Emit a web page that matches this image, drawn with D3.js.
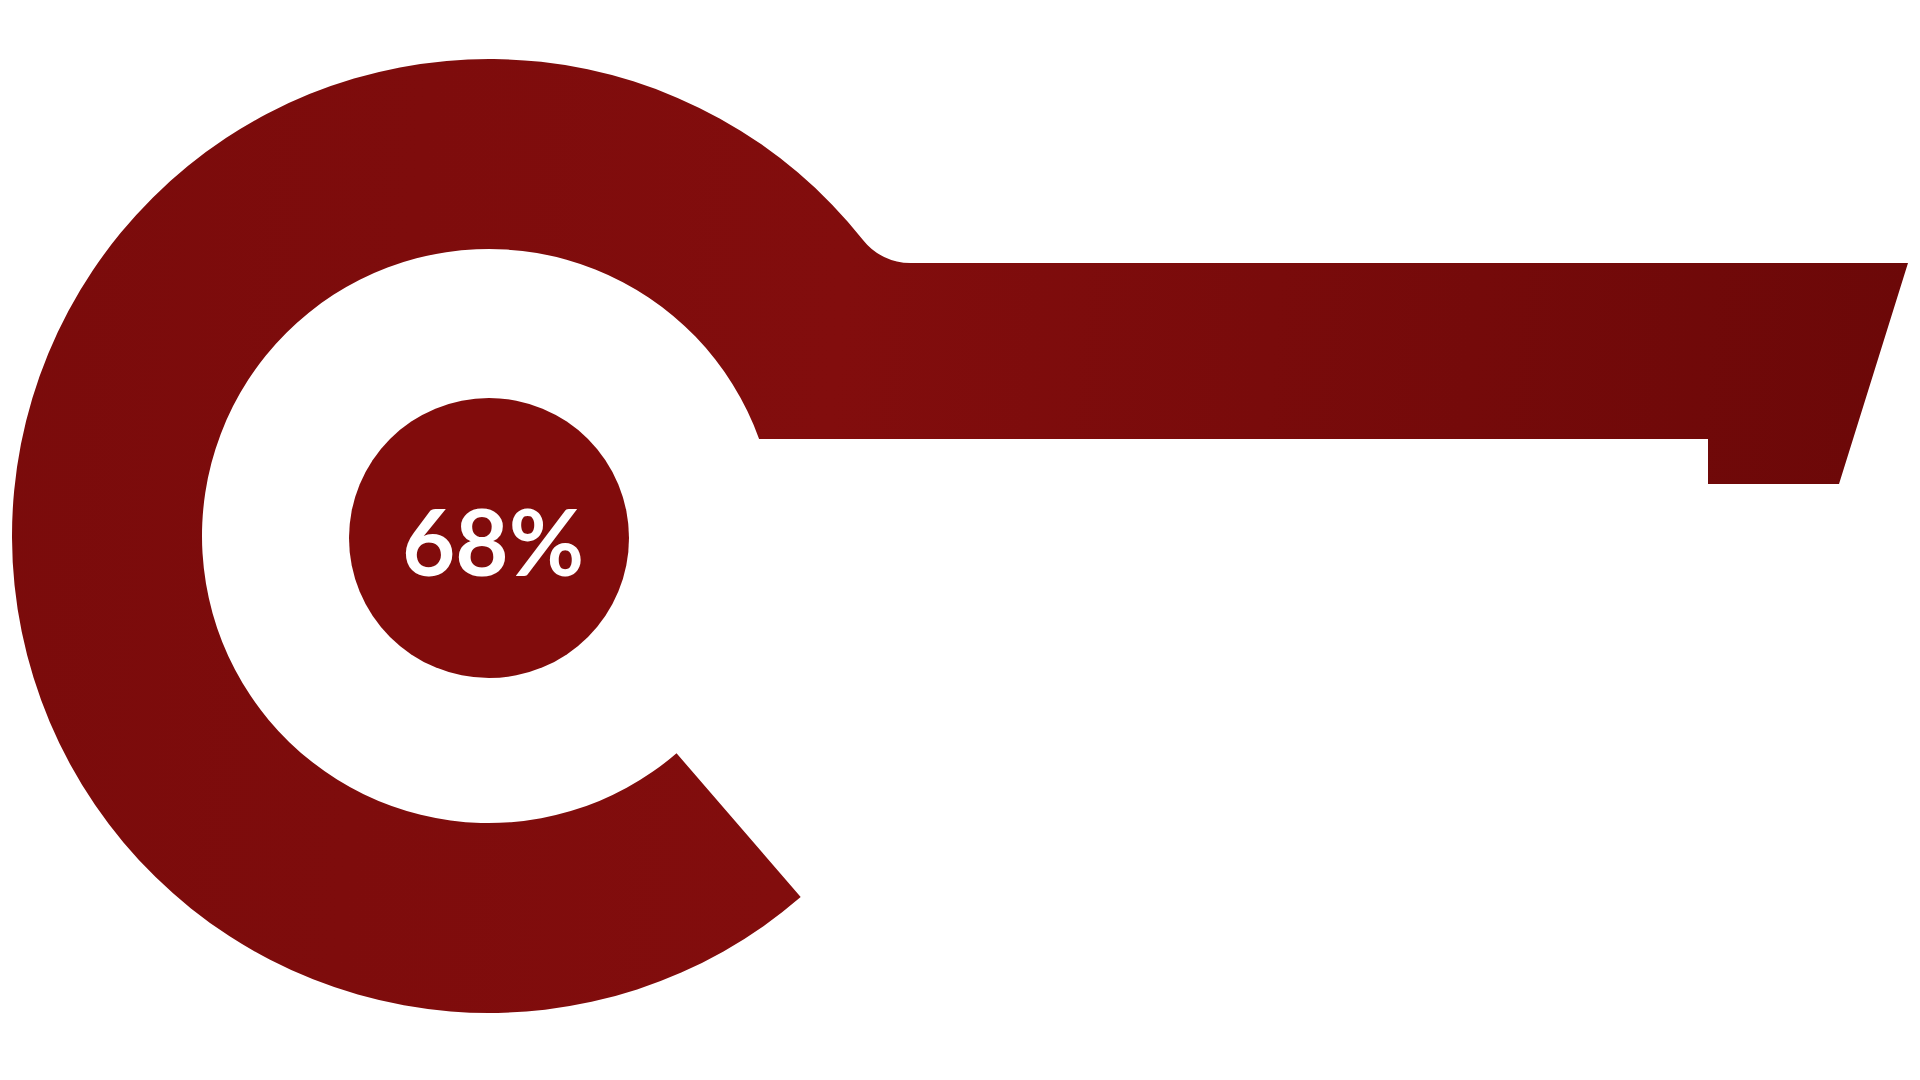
<!DOCTYPE html>
<html>
<head>
<meta charset="utf-8">
<script src="https://cdn.jsdelivr.net/npm/d3@7"></script>
<style>
  html, body { margin: 0; padding: 0; background: #ffffff; }
  svg { display: block; }
</style>
</head>
<body>
<svg id="chart" width="1920" height="1080"></svg>
<script>
// ---- data ----
const labels = ["68%"];
const values = [68];

// ---- layout ----
const W = 1920, H = 1080;
const cx = 489, cy = 536;
const rOuter = 477, rInner = 287, rDisc = 140;
const arcEndDeg = 139.2;          // radial end of ring (bottom right), d3 angle
const barTop = 263, barBottom = 439, tabBottom = 484;
const tabLeft = 1708, barRightTop = 1908, barRightBottom = 1839;
const filletR = 60;

const svg = d3.select("#chart");
const defs = svg.append("defs");
const grad = defs.append("linearGradient")
  .attr("id", "fillGrad").attr("gradientUnits", "userSpaceOnUse")
  .attr("x1", 0).attr("y1", 0).attr("x2", W).attr("y2", 200);
grad.append("stop").attr("offset", 0).attr("stop-color", "#7a0b0b");
grad.append("stop").attr("offset", 0.45).attr("stop-color", "#820d0d");
grad.append("stop").attr("offset", 1).attr("stop-color", "#6c0808");

const rad = d => d * Math.PI / 180;

// fillet geometry between outer circle and bar top line
const fy = barTop - filletR;
const fdist = rOuter + filletR;
const fx = cx + Math.sqrt(fdist * fdist - (cy - fy) * (cy - fy));
const tAng = Math.atan2(fy - cy, fx - cx);            // standard angle of tangent on circle
const fStart = Math.atan2((cy + rOuter * Math.sin(tAng)) - fy, (cx + rOuter * Math.cos(tAng)) - fx);

// inner circle meets bar bottom
const ix = cx + Math.sqrt(rInner * rInner - (barBottom - cy) * (barBottom - cy));
const innerAng = Math.atan2(barBottom - cy, ix - cx);

const endStd = rad(arcEndDeg - 90);  // standard angle of ring end

const p = d3.path();
p.moveTo(cx + rOuter * Math.cos(endStd), cy + rOuter * Math.sin(endStd));
p.arc(cx, cy, rOuter, endStd, tAng + 2 * Math.PI, false);
p.arc(fx, fy, filletR, fStart, Math.PI / 2, true);
p.lineTo(barRightTop, barTop);
p.lineTo(barRightBottom, tabBottom);
p.lineTo(tabLeft, tabBottom);
p.lineTo(tabLeft, barBottom);
p.lineTo(ix, barBottom);
p.arc(cx, cy, rInner, innerAng, endStd, true);
p.closePath();

svg.append("path")
  .attr("d", p.toString())
  .attr("fill", "url(#fillGrad)");

// center disc with value
const g = svg.append("g").attr("transform", `translate(${cx},${cy + 2})`);
g.selectAll("circle").data(values).join("circle")
  .attr("r", rDisc)
  .attr("fill", "#810c0c");
g.selectAll("text").data(labels).join("text")
  .attr("x", 4)
  .attr("y", 14)
  .attr("text-anchor", "middle")
  .attr("dominant-baseline", "middle")
  .attr("font-family", "Lato, 'Open Sans', sans-serif")
  .attr("font-weight", 700)
  .attr("font-size", 92)
  .attr("fill", "#ffffff")
  .text(d => d);
</script>
</body>
</html>
